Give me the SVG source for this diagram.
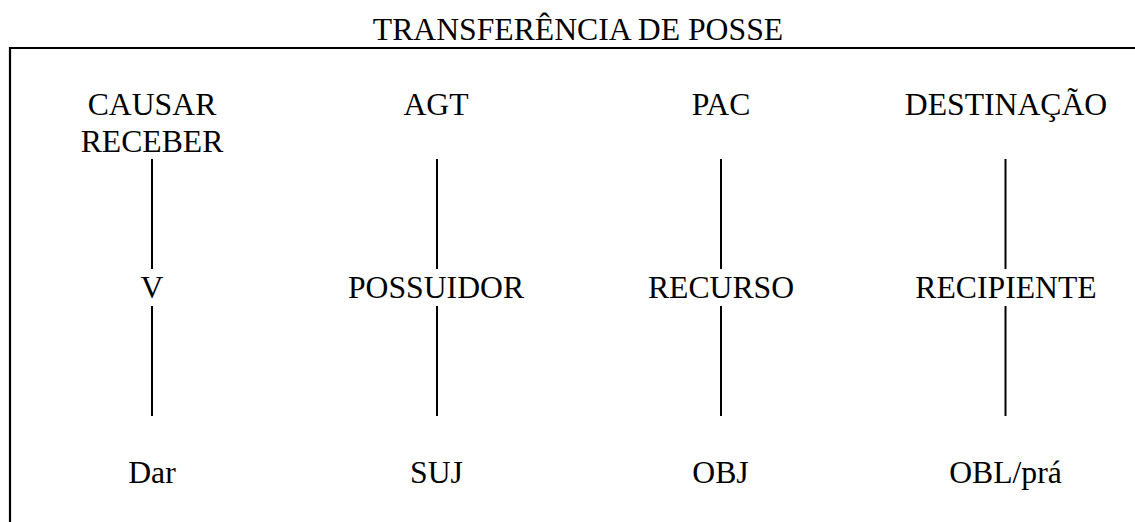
<svg xmlns="http://www.w3.org/2000/svg" width="1135" height="522" viewBox="0 0 1135 522">
<style>
text{font-family:"Liberation Serif","Times New Roman",serif;font-size:31.7px;fill:#000;text-anchor:middle}
.ln{stroke:#000;stroke-width:2;fill:none}
.bd{stroke:#000;stroke-width:2.2;fill:none}
</style>
<rect width="1135" height="522" fill="#fff"/>
<g id="frame">
<path class="bd" d="M10,530 V48 H1140"/>
<text x="578" y="40">TRANSFERÊNCIA DE POSSE</text>
</g>
<g id="connectors">
<line class="ln" x1="152" y1="159" x2="152" y2="269"/>
<line class="ln" x1="152" y1="306" x2="152" y2="416"/>
<line class="ln" x1="437" y1="159" x2="437" y2="269"/>
<line class="ln" x1="437" y1="306" x2="437" y2="416"/>
<line class="ln" x1="721" y1="159" x2="721" y2="269"/>
<line class="ln" x1="721" y1="306" x2="721" y2="416"/>
<line class="ln" x1="1005.5" y1="159" x2="1005.5" y2="269"/>
<line class="ln" x1="1005.5" y1="306" x2="1005.5" y2="416"/>
</g>
<g id="n-causar"><text x="152" y="115">CAUSAR</text><text x="152" y="152">RECEBER</text></g>
<g id="n-agt"><text x="436" y="115">AGT</text></g>
<g id="n-pac"><text x="721" y="115">PAC</text></g>
<g id="n-dest"><text x="1006" y="115">DESTINAÇÃO</text></g>
<g id="n-v"><text x="152" y="298">V</text></g>
<g id="n-possuidor"><text x="436" y="298">POSSUIDOR</text></g>
<g id="n-recurso"><text x="721" y="298">RECURSO</text></g>
<g id="n-recipiente"><text x="1006" y="298">RECIPIENTE</text></g>
<g id="n-dar"><text x="152" y="483">Dar</text></g>
<g id="n-suj"><text x="436.5" y="483">SUJ</text></g>
<g id="n-obj"><text x="720.5" y="483">OBJ</text></g>
<g id="n-obl"><text x="1005.5" y="483">OBL/prá</text></g>
</svg>
